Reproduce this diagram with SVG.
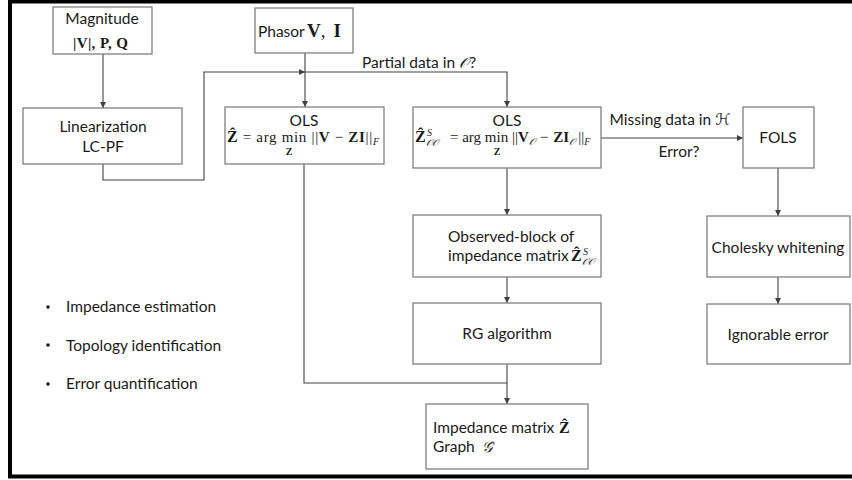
<svg xmlns="http://www.w3.org/2000/svg" width="852" height="480" viewBox="0 0 852 480">
  <style>
    .box { fill: #ffffff; stroke: #808080; stroke-width: 1.3; }
    .t { font-family: Lato, "Open Sans", sans-serif; font-size: 15.5px; fill: #1a1a1a; }
    .c { text-anchor: middle; }
    .m { font-family: "Liberation Serif", "DejaVu Serif", serif; font-size: 15px; fill: #1a1a1a; }
    .b { font-weight: bold; }
    .s { font-size: 10px; }
    .cal { font-family: "DejaVu Sans", "Noto Sans", sans-serif; font-style: italic; }
    .wire { fill: none; stroke: #404040; stroke-width: 1.1; }
  </style>
  <defs>
    <marker id="arrow" viewBox="0 0 10 10" refX="10" refY="5" markerWidth="6" markerHeight="6" orient="auto" markerUnits="userSpaceOnUse">
      <path d="M0,0 L10,5 L0,10 z" fill="#404040"/>
    </marker>
  </defs>

  <rect width="852" height="480" fill="#ffffff"/>
  <!-- outer frame (open to the right) -->
  <rect x="10" y="1.5" width="900" height="475" fill="none" stroke="#000000" stroke-width="4"/>

  <!-- connectors -->
  <g id="connectors">
    <line class="wire" x1="103" y1="54" x2="103" y2="108" marker-end="url(#arrow)"/>
    <polyline class="wire" points="103,164 103,180 204,180 204,72 305,72" marker-end="url(#arrow)"/>
    <line class="wire" x1="305" y1="53" x2="305" y2="107" marker-end="url(#arrow)"/>
    <polyline class="wire" points="305,72 507,72 507,107" marker-end="url(#arrow)"/>
    <line class="wire" x1="601" y1="138" x2="743" y2="138" marker-end="url(#arrow)"/>
    <line class="wire" x1="507" y1="168" x2="507" y2="215" marker-end="url(#arrow)"/>
    <line class="wire" x1="507" y1="277" x2="507" y2="303" marker-end="url(#arrow)"/>
    <line class="wire" x1="507" y1="364" x2="507" y2="404" marker-end="url(#arrow)"/>
    <polyline class="wire" points="304,164 304,383 507,383"/>
    <line class="wire" x1="778" y1="168" x2="778" y2="216" marker-end="url(#arrow)"/>
    <line class="wire" x1="778" y1="277" x2="778" y2="304" marker-end="url(#arrow)"/>
    <text class="t" x="362" y="68">Partial data in <tspan class="cal">𝒪</tspan>?</text>
    <text class="t c" x="670" y="125">Missing data in <tspan class="cal">ℋ</tspan></text>
    <text class="t c" x="679" y="157">Error?</text>
  </g>

  <g id="magnitude">
    <rect class="box" x="53" y="7" width="99" height="47"/>
    <text class="t c" x="102" y="24">Magnitude</text>
    <text class="m b" x="73" y="48" textLength="55">|V|, P, Q</text>
  </g>

  <g id="linearization">
    <rect class="box" x="23" y="108" width="159" height="56"/>
    <text class="t c" x="103" y="132">Linearization</text>
    <text class="t c" x="103" y="152">LC-PF</text>
  </g>

  <g id="phasor">
    <rect class="box" x="255" y="8" width="98" height="45"/>
    <text class="t" x="258" y="37">Phasor</text>
    <text class="m b" x="307" y="37" style="font-size:19px">V<tspan font-weight="normal">,</tspan><tspan dx="8">I</tspan></text>
  </g>

  <g id="ols-full">
    <rect class="box" x="225" y="107" width="159" height="57"/>
    <text class="t c" x="304" y="126">OLS</text>
    <text class="m" x="227" y="142" textLength="152"><tspan class="b" style="font-size:16px">Ẑ</tspan> = arg min ||<tspan class="b">V</tspan> − <tspan class="b">ZI</tspan>||<tspan class="s" dy="3" font-style="italic">F</tspan></text>
    <text class="m b s c" x="289" y="155">Z</text>
  </g>

  <g id="ols-partial">
    <rect class="box" x="413" y="107" width="188" height="61"/>
    <text class="t c" x="507" y="126">OLS</text>
    <text class="m b" x="415" y="142" style="font-size:16px">Ẑ</text>
    <text class="m s" x="427" y="136" font-style="italic">S</text>
    <text class="m s cal" x="426" y="146">𝒪𝒪</text>
    <text class="m" x="450" y="142">= arg min</text>
    <text class="m b s c" x="497" y="155">Z</text>
    <text class="m" x="512" y="142">||<tspan class="b">V</tspan><tspan class="s cal" dy="3">𝒪</tspan><tspan dy="-3" dx="5">−</tspan><tspan class="b" dx="5">ZI</tspan><tspan class="s cal" dy="3">𝒪</tspan><tspan dy="-3" dx="3">||</tspan><tspan class="s" dy="3" font-style="italic">F</tspan></text>
  </g>

  <g id="fols">
    <rect class="box" x="743" y="107" width="71" height="61"/>
    <text class="t c" x="778" y="143">FOLS</text>
  </g>

  <g id="observed-block">
    <rect class="box" x="413" y="215" width="188" height="62"/>
    <text class="t" x="448" y="242">Observed-block of</text>
    <text class="t" x="448" y="261">impedance matrix</text>
    <text class="m b" x="571" y="261" style="font-size:16px">Ẑ</text>
    <text class="m s" x="583" y="255" font-style="italic">S</text>
    <text class="m s cal" x="582" y="265">𝒪𝒪</text>
  </g>

  <g id="rg-algorithm">
    <rect class="box" x="413" y="303" width="188" height="61"/>
    <text class="t c" x="507" y="339">RG algorithm</text>
  </g>

  <g id="impedance-graph">
    <rect class="box" x="426" y="404" width="162" height="65"/>
    <text class="t" x="433" y="433">Impedance matrix</text>
    <text class="m b" x="559" y="433" style="font-size:16px">Ẑ</text>
    <text class="t" x="433" y="452">Graph</text>
    <text class="m cal" x="482" y="452">𝒢̂</text>
  </g>

  <g id="cholesky">
    <rect class="box" x="707" y="216" width="143" height="61"/>
    <text class="t c" x="778" y="253">Cholesky whitening</text>
  </g>

  <g id="ignorable">
    <rect class="box" x="707" y="304" width="143" height="60"/>
    <text class="t c" x="778" y="340">Ignorable error</text>
  </g>

  <g id="goals">
    <circle cx="48" cy="307" r="1.8" fill="#1a1a1a"/>
    <text class="t" x="66" y="312">Impedance estimation</text>
    <circle cx="48" cy="345" r="1.8" fill="#1a1a1a"/>
    <text class="t" x="66" y="351">Topology identification</text>
    <circle cx="48" cy="384" r="1.8" fill="#1a1a1a"/>
    <text class="t" x="66" y="389">Error quantification</text>
  </g>
</svg>
